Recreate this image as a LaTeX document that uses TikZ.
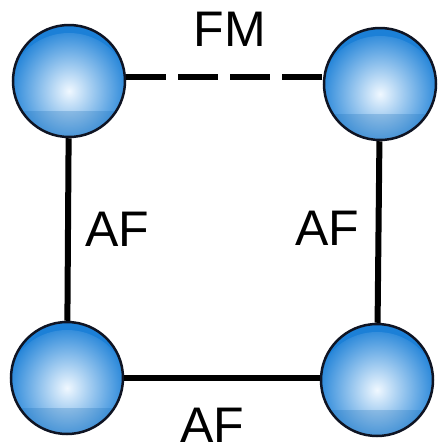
\documentclass[tikz,border=0pt]{standalone}
\usepackage{fontspec}
\setmainfont{Liberation Sans}
\definecolor{ballout}{RGB}{28,128,215}
\definecolor{ballin}{RGB}{240,248,255}
\definecolor{rimcol}{RGB}{15,20,35}
\tikzset{
  ball/.style={circle, minimum size=112pt, inner sep=0pt, draw=rimcol, line width=2.5pt,
    fill=ballout,
    path picture={
      \shade[inner color=ballin, outer color=ballout]
        ([yshift=-14pt]path picture bounding box.center) circle (62pt);
      \fill[ballout!85!black, opacity=0.25]
        ([yshift=-30pt]path picture bounding box.west) rectangle (path picture bounding box.south east);
    }},
  bond/.style={line width=6pt, black},
  fmbond/.style={bond, dash pattern=on 40pt off 12pt},
  lbl/.style={font=\fontsize{50}{56}\selectfont, inner sep=0pt, text=black}
}
\begin{document}
\begin{tikzpicture}[x=1pt,y=-1pt]
\useasboundingbox (0,0) rectangle (438,448);
\fill[white] (0,0) rectangle (438,448);
\node[ball] (tl) at (69,81) {};
\node[ball] (tr) at (380,84) {};
\node[ball] (bl) at (67,378) {};
\node[ball] (br) at (377,380) {};
\draw[fmbond] ([yshift=4pt]tl.east) -- ([yshift=7pt]tr.west);
\draw[bond] (tl) -- (bl);
\draw[bond] (tr) -- (br);
\draw[bond] (bl) -- ([yshift=2pt]br.west);
\node[lbl] (fm) at (230,29) {FM};
\node[lbl] (afl) at (117,229) {AF};
\node[lbl] (afr) at (327,228) {AF};
\node[lbl, anchor=north] (afb) at (212,408) {AF};
\end{tikzpicture}
\end{document}
